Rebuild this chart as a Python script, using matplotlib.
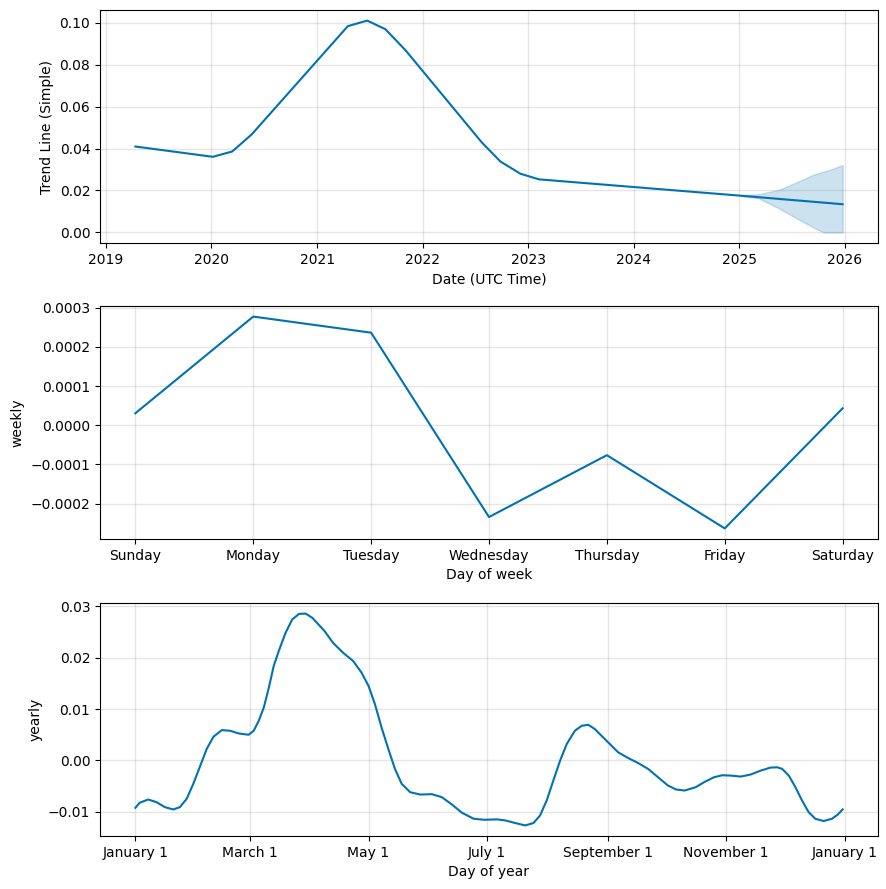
import matplotlib
matplotlib.use("Agg")
import matplotlib.pyplot as plt
import matplotlib.dates as mdates
from matplotlib.ticker import FuncFormatter
import pandas as pd

# ---- Trend data ----
trend_dates = ["2019-04-13", "2020-01-06", "2020-03-13", "2020-05-20", "2021-04-17",
               "2021-06-23", "2021-08-25", "2021-11-03", "2022-07-24", "2022-09-27",
               "2022-12-05", "2023-02-07", "2025-01-01", "2025-12-24"]
trend_values = [0.04095, 0.03605, 0.03858, 0.0468, 0.09834,
                0.1010, 0.0969, 0.0868, 0.0430, 0.0338,
                0.0280, 0.0253, 0.01755, 0.01344]

band_dates = ["2025-01-01", "2025-01-16", "2025-03-08", "2025-05-17", "2025-07-19",
              "2025-09-15", "2025-10-19", "2025-11-23", "2025-12-24"]
band_upper = [0.01755, 0.0179, 0.0182, 0.0203, 0.0240, 0.0276, 0.0290, 0.0305, 0.0321]
band_lower = [0.01755, 0.0172, 0.0163, 0.0115, 0.0066, 0.0023, 0.0, 0.0, 0.0]

# ---- Weekly data ----
weekdays = ["Sunday", "Monday", "Tuesday", "Wednesday", "Thursday", "Friday", "Saturday"]
weekly_values = [0.0000305, 0.000277, 0.000236, -0.000234, -0.0000763, -0.000263, 0.0000432]

# ---- Yearly data (day offset from Jan 1, value) ----
yearly_days = [0, 2.2, 6.6, 10.9, 15.2, 19.5, 22.9, 26.4, 29.8, 33.3, 36.7, 40.2, 44.5,
               48.8, 53.1, 58.3, 60.9, 63.5, 66.1, 68.7, 71.2, 73.8, 77.3, 80.7, 84.2,
               87.6, 91.1, 97.4, 101.7, 106.9, 112.1, 116.4, 120, 123.3, 126.7, 130.2,
               133.6, 137.1, 141.4, 146.5, 152.6, 157.7, 162.9, 168.1, 174.1, 179.3,
               186.2, 190.4, 195.5, 200.6, 204.9, 208.3, 211.7, 215.1, 218.6, 222,
               226.2, 229.7, 233.1, 236.5, 239.9, 244.2, 248.5, 253.6, 258.7, 263.9,
               269, 274.1, 278.4, 282.7, 288.4, 292.7, 297.8, 302.1, 306.4, 311.5,
               316.6, 321.8, 326.9, 330.3, 332.9, 336.3, 339.7, 343.1, 346.5, 349.9,
               354.2, 358.5, 361.4, 364]
yearly_values = [-0.00926, -0.00828, -0.00764, -0.00816, -0.00913, -0.00958, -0.00913,
                 -0.00751, -0.00460, -0.00117, 0.00220, 0.00460, 0.00589, 0.00576,
                 0.00524, 0.00498, 0.00576, 0.0077, 0.0103, 0.01417, 0.01838, 0.0213,
                 0.02485, 0.02744, 0.02854, 0.0286, 0.02777, 0.02518, 0.02291, 0.02097,
                 0.01935, 0.01709, 0.0145, 0.01094, 0.00641, 0.0022, -0.00168, -0.0046,
                 -0.00621, -0.00667, -0.0066, -0.00718, -0.00861, -0.01023, -0.01139,
                 -0.01159, -0.01152, -0.01172, -0.01223, -0.01269, -0.01223, -0.01074,
                 -0.00783, -0.00395, -0.00006, 0.00317, 0.00576, 0.00673, 0.00693,
                 0.00608, 0.00479, 0.00317, 0.00155, 0.00045, -0.00052, -0.00168,
                 -0.0033, -0.00492, -0.0057, -0.00589, -0.00524, -0.00427, -0.0033,
                 -0.00291, -0.00298, -0.00317, -0.00278, -0.00201, -0.00142, -0.00136,
                 -0.00168, -0.00298, -0.00524, -0.00783, -0.01010, -0.01139, -0.01184,
                 -0.01139, -0.01061, -0.00958]

LINE_C = "#0072B2"

fig = plt.figure(figsize=(8.86, 8.89), dpi=100)
W, H = 886, 889
def axes_px(l, t, r, b):
    return fig.add_axes([l / W, (H - b) / H, (r - l) / W, (b - t) / H])

ax1 = axes_px(100, 10, 878, 243)
ax2 = axes_px(100, 306, 878, 539)
ax3 = axes_px(100, 603, 878, 836)

for ax in (ax1, ax2, ax3):
    ax.grid(True, which="major", c="gray", ls="-", lw=1, alpha=0.2)

# Trend
td = pd.to_datetime(trend_dates)
ax1.plot(td, trend_values, ls="-", c=LINE_C)
bd = pd.to_datetime(band_dates)
ax1.fill_between(bd, band_lower, band_upper, color=LINE_C, alpha=0.2)
ax1.xaxis.set_major_locator(mdates.YearLocator())
ax1.xaxis.set_major_formatter(mdates.DateFormatter("%Y"))
ax1.set_xlabel("Date (UTC Time)")
ax1.set_ylabel("Trend Line (Simple)")

# Weekly
ax2.plot(range(len(weekdays)), weekly_values, ls="-", c=LINE_C)
ax2.set_xticks(range(len(weekdays)))
ax2.set_xticklabels(weekdays)
ax2.set_xlabel("Day of week")
ax2.set_ylabel("weekly")

# Yearly
yd = pd.Timestamp("2017-01-01") + pd.to_timedelta(yearly_days, unit="D")
ax3.plot(yd, yearly_values, ls="-", c=LINE_C)
ax3.xaxis.set_major_locator(mdates.MonthLocator(bymonth=range(1, 13, 2), bymonthday=1))
def fmt(x, pos):
    d = mdates.num2date(x)
    return f"{d.strftime('%B')} {d.day}"
ax3.xaxis.set_major_formatter(FuncFormatter(fmt))
ax3.set_xlabel("Day of year")
ax3.set_ylabel("yearly")

fig.savefig("out.png", dpi=100)
